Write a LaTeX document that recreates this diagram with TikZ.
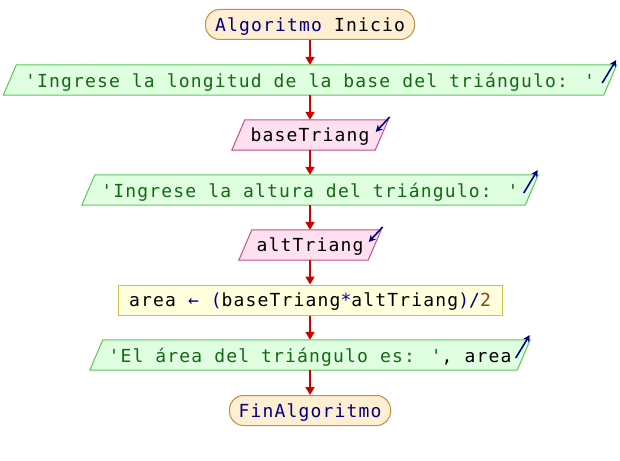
\documentclass[tikz,border=0pt]{standalone}
\usepackage{fontspec}
\usetikzlibrary{arrows.meta,calc}
\newfontfamily\psfont[LetterSpace=6.5]{DejaVu Sans Mono}
\definecolor{kw}{RGB}{0,0,128}
\definecolor{strc}{RGB}{20,105,20}
\definecolor{numc}{RGB}{140,70,20}
\definecolor{termfill}{RGB}{255,239,210}
\definecolor{termdraw}{RGB}{200,140,60}
\definecolor{outfill}{RGB}{224,255,224}
\definecolor{outdraw}{RGB}{90,200,90}
\definecolor{infill}{RGB}{255,224,240}
\definecolor{indraw}{RGB}{195,80,135}
\definecolor{procfill}{RGB}{255,255,221}
\definecolor{procdraw}{RGB}{200,195,70}
\definecolor{flow}{RGB}{204,0,0}
\tikzset{
  base/.style={font=\psfont\fontsize{18}{20}\selectfont, inner sep=0pt, minimum height=30pt, text depth=0pt},
  term/.style={base, draw=termdraw, fill=termfill, line width=1pt, rounded corners=14pt},
  proc/.style={base, draw=procdraw, fill=procfill, line width=1pt},
  slot/.style={base},
  outshape/.style={draw=outdraw, fill=outfill, line width=1pt},
  inshape/.style={draw=indraw, fill=infill, line width=1pt},
  flowline/.style={draw=flow, line width=1.6pt, -{Triangle[length=8pt,width=9pt]}},
  ioarrow/.style={draw=kw, line width=1.6pt, -{Stealth[length=7pt,width=7pt]}}
}
% slanted box behind a node: shift of the lower and upper corners
\newcommand{\slantbox}[3]{%
  \path[#1] ([xshift=-6.5pt]#2.south west) -- ([xshift=6.5pt]#2.north west)
    -- ([xshift=6.5pt]#2.north east) -- ([xshift=-6.5pt]#2.south east) -- cycle;
  \node[slot] at (#2.center) {#3};}
\begin{document}
\begin{tikzpicture}[x=1pt,y=-1pt]
\useasboundingbox (0,0) rectangle (620,460);

% nodes
\node[term, minimum width=209pt] (start) at (310,24.5)
  {\textcolor{kw}{Algoritmo} Inicio};
\node[slot, minimum width=600pt] (o1) at (310,80) {};
\node[slot, minimum width=143pt] (i1) at (310,135) {};
\node[slot, minimum width=443pt] (o2) at (310,190) {};
\node[slot, minimum width=129pt] (i2) at (310,245) {};
\node[proc, minimum width=384pt] (calc) at (310,300)
  {area \textcolor{kw}{←} \textcolor{kw}{(}baseTriang\textcolor{kw}{*}altTriang\textcolor{kw}{)}\textcolor{kw}{/}\textcolor{numc}{2}};
\node[slot, minimum width=427pt] (o3) at (310,355) {};
\node[term, minimum width=161pt] (stop) at (310,410.5)
  {\textcolor{kw}{FinAlgoritmo}};

% slanted input/output boxes
\slantbox{outshape}{o1}{\textcolor{strc}{'Ingrese la longitud de la base del triángulo: '}}
\slantbox{inshape}{i1}{baseTriang}
\slantbox{outshape}{o2}{\textcolor{strc}{'Ingrese la altura del triángulo: '}}
\slantbox{inshape}{i2}{altTriang}
\slantbox{outshape}{o3}{\textcolor{strc}{'El área del triángulo es: '}, area}

% flow connectors
\draw[flowline] (start.south) -- (o1.north);
\draw[flowline] (o1.south) -- (i1.north);
\draw[flowline] (i1.south) -- (o2.north);
\draw[flowline] (o2.south) -- (i2.north);
\draw[flowline] (i2.south) -- (calc.north);
\draw[flowline] (calc.south) -- (o3.north);
\draw[flowline] (o3.south) -- (stop.north);

% output / input markers
\draw[ioarrow] ([xshift=-8pt,yshift=-3pt]o1.east) -- ([xshift=6pt,yshift=20pt]o1.east);
\draw[ioarrow] ([xshift=8pt,yshift=18pt]i1.east) -- ([xshift=-6pt,yshift=3pt]i1.east);
\draw[ioarrow] ([xshift=-8pt,yshift=-3pt]o2.east) -- ([xshift=6pt,yshift=20pt]o2.east);
\draw[ioarrow] ([xshift=8pt,yshift=18pt]i2.east) -- ([xshift=-6pt,yshift=3pt]i2.east);
\draw[ioarrow] ([xshift=-8pt,yshift=-3pt]o3.east) -- ([xshift=6pt,yshift=20pt]o3.east);
\end{tikzpicture}
\end{document}
